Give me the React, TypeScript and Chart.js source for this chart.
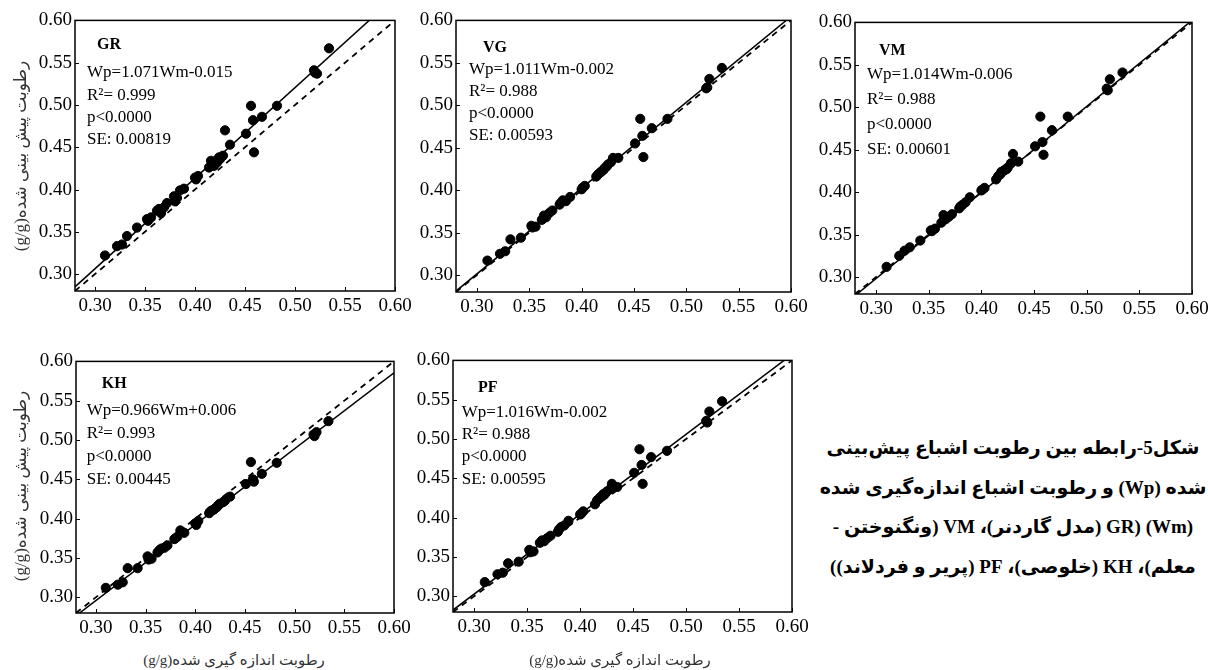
import React, { useEffect, useRef } from 'react';
import { Chart, registerables } from 'chart.js';

Chart.register(...registerables);

// ---------- data ----------
const measured = [
  0.310, 0.322, 0.327, 0.332, 0.342, 0.352, 0.356, 0.362, 0.364, 0.369,
  0.372, 0.379, 0.382, 0.385, 0.389, 0.400, 0.403, 0.414, 0.416, 0.419,
  0.422, 0.425, 0.428, 0.430, 0.435, 0.451, 0.456, 0.458, 0.459, 0.467,
  0.482, 0.519, 0.522, 0.534, 0.418, 0.421, 0.424, 0.380, 0.401, 0.366,
  0.353, 0.520,
];
const predictedGR = [
  0.322, 0.333, 0.335, 0.345, 0.355, 0.365, 0.367, 0.375, 0.377, 0.379,
  0.384, 0.392, 0.390, 0.399, 0.401, 0.414, 0.416, 0.426, 0.434, 0.428,
  0.432, 0.436, 0.440, 0.470, 0.453, 0.466, 0.499, 0.482, 0.444, 0.486,
  0.499, 0.541, 0.537, 0.567, 0.430, 0.434, 0.438, 0.386, 0.412, 0.372,
  0.363, 0.538,
];
const predictedVG = [
  0.317, 0.325, 0.328, 0.342, 0.344, 0.358, 0.357, 0.365, 0.370, 0.373,
  0.376, 0.383, 0.388, 0.387, 0.392, 0.401, 0.405, 0.416, 0.419, 0.422,
  0.426, 0.430, 0.433, 0.438, 0.438, 0.455, 0.484, 0.464, 0.439, 0.473,
  0.484, 0.520, 0.531, 0.544, 0.421, 0.424, 0.428, 0.385, 0.403, 0.368,
  0.356, 0.521,
];
const predictedVM = [
  0.312, 0.325, 0.331, 0.335, 0.343, 0.355, 0.357, 0.364, 0.373, 0.371,
  0.374, 0.381, 0.385, 0.388, 0.394, 0.402, 0.405, 0.415, 0.419, 0.424,
  0.426, 0.429, 0.434, 0.445, 0.436, 0.454, 0.489, 0.459, 0.444, 0.473,
  0.489, 0.522, 0.533, 0.541, 0.421, 0.425, 0.427, 0.383, 0.403, 0.368,
  0.354, 0.520,
];
const predictedKH = [
  0.312, 0.316, 0.319, 0.337, 0.337, 0.352, 0.349, 0.357, 0.360, 0.363,
  0.366, 0.374, 0.377, 0.385, 0.382, 0.394, 0.397, 0.407, 0.410, 0.412,
  0.415, 0.419, 0.421, 0.423, 0.428, 0.444, 0.472, 0.450, 0.447, 0.457,
  0.471, 0.507, 0.510, 0.524, 0.411, 0.414, 0.418, 0.375, 0.392, 0.362,
  0.348, 0.505,
];
const predictedPF = [
  0.318, 0.328, 0.330, 0.342, 0.344, 0.359, 0.357, 0.368, 0.371, 0.374,
  0.377, 0.382, 0.388, 0.390, 0.396, 0.404, 0.408, 0.417, 0.422, 0.426,
  0.430, 0.433, 0.436, 0.443, 0.439, 0.457, 0.487, 0.467, 0.443, 0.477,
  0.485, 0.523, 0.535, 0.548, 0.424, 0.428, 0.431, 0.385, 0.405, 0.370,
  0.356, 0.521,
];

const modelNames = ['GR', 'VG', 'VM', 'KH', 'PF'];
const slopes = [1.071, 1.011, 1.014, 0.966, 1.016];
const intercepts = [-0.015, -0.002, -0.006, 0.006, -0.002];
const equationLabels = [
  'Wp=1.071Wm-0.015',
  'Wp=1.011Wm-0.002',
  'Wp=1.014Wm-0.006',
  'Wp=0.966Wm+0.006',
  'Wp=1.016Wm-0.002',
];
const r2Labels = ['R²= 0.999', 'R²= 0.988', 'R²= 0.988', 'R²= 0.993', 'R²= 0.988'];
const pLabels = ['p<0.0000', 'p<0.0000', 'p<0.0000', 'p<0.0000', 'p<0.0000'];
const seLabels = ['SE: 0.00819', 'SE: 0.00593', 'SE: 0.00601', 'SE: 0.00445', 'SE: 0.00595'];
const tickValues = [0.30, 0.35, 0.40, 0.45, 0.50, 0.55, 0.60];
const axisMin = 0.28;
const axisMax = 0.60;

const yTitle = 'رطوبت پیش بینی شده(g/g)';
const xTitle = 'رطوبت اندازه گیری شده(g/g)';
const captionLines = [
  'شکل5-رابطه بین رطوبت اشباع پیش‌بینی',
  'شده (Wp) و رطوبت اشباع اندازه‌گیری شده',
  '(Wm) (GR (مدل گاردنر)، VM (ونگنوختن -',
  'معلم)، KH (خلوصی)، PF (پریر و فردلاند))',
];

const predictedAll = [predictedGR, predictedVG, predictedVM, predictedKH, predictedPF];

// ---------- layout (positions only) ----------
type Box = { l: number; t: number; r: number; b: number };
type Layout = { box: Box; label: [number, number]; textX: number; textY0: number; textStep: number };
const layouts: Layout[] = [
  { box: { l: 75, t: 18, r: 395, b: 291 }, label: [22, 24], textX: 12, textY0: 52.5, textStep: 22.3 },
  { box: { l: 456, t: 18, r: 791, b: 292 }, label: [27, 27], textX: 13, textY0: 48.7, textStep: 22.3 },
  { box: { l: 855, t: 20, r: 1192, b: 294 }, label: [24, 28], textX: 12, textY0: 51.7, textStep: 25 },
  { box: { l: 76, t: 359, r: 394, b: 613 }, label: [25.7, 22.7], textX: 10.7, textY0: 49.3, textStep: 22.8 },
  { box: { l: 453, t: 358, r: 792, b: 612 }, label: [25, 27], textX: 8.7, textY0: 52, textStep: 22.3 },
];

const PAD_L = 52;
const PAD_T = 12;
const PAD_R = 22;
const PAD_B = 34;
const SERIF = '"Liberation Serif", "Times New Roman", serif';

function Panel({ index }: { index: number }) {
  const ref = useRef<HTMLCanvasElement>(null);
  const lay = layouts[index];
  const w = lay.box.r - lay.box.l + PAD_L + PAD_R;
  const h = lay.box.b - lay.box.t + PAD_T + PAD_B;

  useEffect(() => {
    if (!ref.current) return;
    const slope = slopes[index];
    const icpt = intercepts[index];
    const pred = predictedAll[index];

    const framePlugin = {
      id: 'frame' + index,
      afterDatasetsDraw(chart: any) {
        const { ctx, chartArea } = chart;
        const xs = chart.scales.x;
        const ys = chart.scales.y;
        ctx.save();
        ctx.strokeStyle = '#000';
        ctx.lineWidth = 1.5;
        ctx.strokeRect(chartArea.left, chartArea.top, chartArea.right - chartArea.left, chartArea.bottom - chartArea.top);
        ctx.lineWidth = 1;
        ctx.beginPath();
        tickValues.forEach((v) => {
          const px = Math.round(xs.getPixelForValue(v)) + 0.5;
          ctx.moveTo(px, chartArea.bottom);
          ctx.lineTo(px, chartArea.bottom - 4);
          const py = Math.round(ys.getPixelForValue(v)) + 0.5;
          ctx.moveTo(chartArea.left, py);
          ctx.lineTo(chartArea.left + 4, py);
        });
        ctx.stroke();

        ctx.fillStyle = '#000';
        ctx.textBaseline = 'middle';
        ctx.textAlign = 'left';
        ctx.font = 'bold 16px ' + SERIF;
        ctx.fillText(modelNames[index], chartArea.left + lay.label[0], chartArea.top + lay.label[1]);
        ctx.font = '17px ' + SERIF;
        const lines = [equationLabels[index], r2Labels[index], pLabels[index], seLabels[index]];
        lines.forEach((s, i) => {
          ctx.fillText(s, chartArea.left + lay.textX, chartArea.top + lay.textY0 + i * lay.textStep);
        });
        ctx.restore();
      },
    };

    const tickFont = { family: SERIF, size: 19 };
    const chart = new Chart(ref.current, {
      type: 'scatter',
      data: {
        datasets: [
          {
            type: 'scatter',
            data: measured.map((x, i) => ({ x, y: pred[i] })),
            pointRadius: 4.6,
            pointBackgroundColor: '#000',
            pointBorderColor: '#000',
            pointBorderWidth: 1,
          } as any,
          {
            type: 'line',
            data: [
              { x: axisMin, y: slope * axisMin + icpt },
              { x: axisMax, y: slope * axisMax + icpt },
            ],
            borderColor: '#000',
            borderWidth: 1.5,
            pointRadius: 0,
            fill: false,
          } as any,
          {
            type: 'line',
            data: [
              { x: axisMin, y: axisMin },
              { x: axisMax, y: axisMax },
            ],
            borderColor: '#000',
            borderWidth: 1.8,
            borderDash: [6, 5],
            pointRadius: 0,
            fill: false,
          } as any,
        ],
      },
      options: {
        animation: false,
        responsive: false,
        maintainAspectRatio: false,
        events: [],
        layout: { padding: { left: 0, top: PAD_T, right: PAD_R, bottom: 0 } },
        plugins: { legend: { display: false }, tooltip: { enabled: false } },
        scales: {
          x: {
            type: 'linear',
            min: axisMin,
            max: axisMax,
            afterBuildTicks: (s: any) => {
              s.ticks = tickValues.map((v) => ({ value: v }));
            },
            afterFit: (s: any) => {
              s.height = PAD_B;
            },
            grid: { display: false, drawTicks: false },
            border: { display: false },
            ticks: {
              padding: 4,
              color: '#000',
              font: tickFont,
              maxRotation: 0,
              autoSkip: false,
              callback: (v: any) => Number(v).toFixed(2),
            },
          },
          y: {
            type: 'linear',
            min: axisMin,
            max: axisMax,
            afterBuildTicks: (s: any) => {
              s.ticks = tickValues.map((v) => ({ value: v }));
            },
            afterFit: (s: any) => {
              s.width = PAD_L;
            },
            grid: { display: false, drawTicks: false },
            border: { display: false },
            ticks: {
              padding: 3,
              color: '#000',
              font: tickFont,
              autoSkip: false,
              callback: (v: any) => Number(v).toFixed(2),
            },
          },
        },
      } as any,
      plugins: [framePlugin],
    });
    return () => chart.destroy();
  }, [index]);

  return (
    <canvas
      ref={ref}
      width={w}
      height={h}
      style={{ position: 'absolute', left: lay.box.l - PAD_L, top: lay.box.t - PAD_T, width: w, height: h }}
    />
  );
}

const titleStyle: React.CSSProperties = {
  position: 'absolute',
  whiteSpace: 'nowrap',
  direction: 'rtl',
  fontFamily: '"Liberation Serif", "DejaVu Sans", serif',
  fontSize: 15,
  color: '#333',
  lineHeight: '18px',
};

export default function App() {
  return (
    <div
      style={{
        position: 'absolute',
        left: 0,
        top: 0,
        width: 1208,
        height: 670,
        background: '#fff',
        overflow: 'hidden',
      }}
    >
      {modelNames.map((_, i) => (
        <Panel key={i} index={i} />
      ))}
      <div style={{ ...titleStyle, fontSize: 17, left: 21, top: 156, transform: 'translate(-50%, -50%) rotate(-90deg)' }}>{yTitle}</div>
      <div style={{ ...titleStyle, fontSize: 17, left: 21, top: 486, transform: 'translate(-50%, -50%) rotate(-90deg)' }}>{yTitle}</div>
      <div style={{ ...titleStyle, left: 234, top: 660, transform: 'translate(-50%, -50%)' }}>{xTitle}</div>
      <div style={{ ...titleStyle, left: 620, top: 660, transform: 'translate(-50%, -50%)' }}>{xTitle}</div>
      <div
        style={{
          position: 'absolute',
          left: 818,
          top: 428,
          width: 390,
          textAlign: 'center',
          direction: 'rtl',
          fontFamily: '"Liberation Serif", "DejaVu Sans", serif',
          fontWeight: 'bold',
          fontSize: 19,
          lineHeight: '39.7px',
          color: '#000',
        }}
      >
        {captionLines.map((s, i) => (
          <div key={i} style={{ whiteSpace: 'nowrap' }}>
            {s}
          </div>
        ))}
      </div>
    </div>
  );
}
